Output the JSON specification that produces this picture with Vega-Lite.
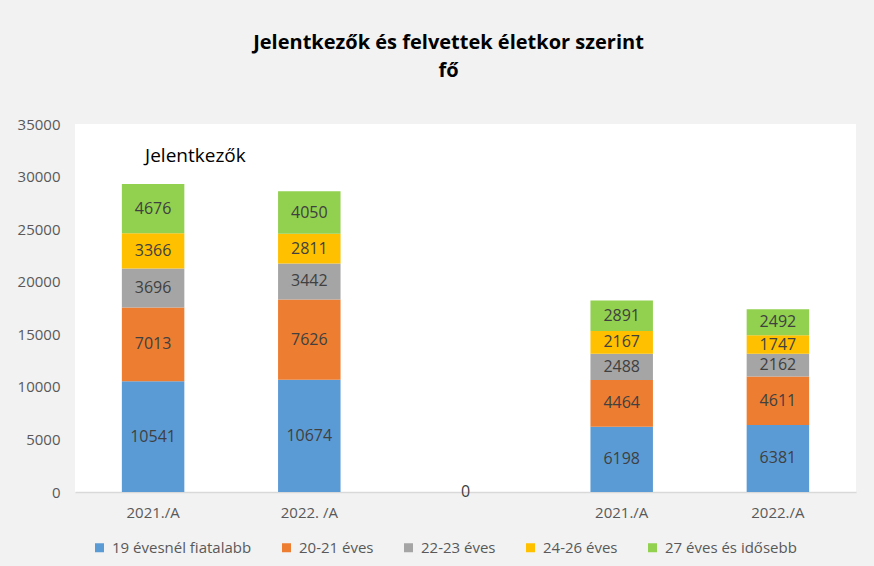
{
  "$schema": "https://vega.github.io/schema/vega-lite/v6.json",
  "width": 781,
  "height": 368,
  "autosize": {"type": "none"},
  "padding": {"left": 75, "top": 124, "right": 18, "bottom": 74},
  "background": "#f2f2f2",
  "view": {"fill": "white", "stroke": null},
  "config": {"font": "Open Sans"},
  "title": {
    "text": ["Jelentkezők és felvettek életkor szerint", "fő"],
    "fontSize": 20,
    "fontWeight": "bold",
    "color": "#000000",
    "lineHeight": 28,
    "anchor": "middle",
    "dx": -17,
    "offset": 36
  },
  "layer": [
    {
      "data": {
        "values": [
          {"kat": "J|2021./A", "csoport": "19 évesnél fiatalabb", "fo": 10541},
          {"kat": "J|2021./A", "csoport": "20-21 éves", "fo": 7013},
          {"kat": "J|2021./A", "csoport": "22-23 éves", "fo": 3696},
          {"kat": "J|2021./A", "csoport": "24-26 éves", "fo": 3366},
          {"kat": "J|2021./A", "csoport": "27 éves és idősebb", "fo": 4676},
          {"kat": "J|2022. /A", "csoport": "19 évesnél fiatalabb", "fo": 10674},
          {"kat": "J|2022. /A", "csoport": "20-21 éves", "fo": 7626},
          {"kat": "J|2022. /A", "csoport": "22-23 éves", "fo": 3442},
          {"kat": "J|2022. /A", "csoport": "24-26 éves", "fo": 2811},
          {"kat": "J|2022. /A", "csoport": "27 éves és idősebb", "fo": 4050},
          {"kat": "U| ", "csoport": "19 évesnél fiatalabb", "fo": 0},
          {"kat": "F|2021./A", "csoport": "19 évesnél fiatalabb", "fo": 6198},
          {"kat": "F|2021./A", "csoport": "20-21 éves", "fo": 4464},
          {"kat": "F|2021./A", "csoport": "22-23 éves", "fo": 2488},
          {"kat": "F|2021./A", "csoport": "24-26 éves", "fo": 2167},
          {"kat": "F|2021./A", "csoport": "27 éves és idősebb", "fo": 2891},
          {"kat": "F|2022./A", "csoport": "19 évesnél fiatalabb", "fo": 6381},
          {"kat": "F|2022./A", "csoport": "20-21 éves", "fo": 4611},
          {"kat": "F|2022./A", "csoport": "22-23 éves", "fo": 2162},
          {"kat": "F|2022./A", "csoport": "24-26 éves", "fo": 1747},
          {"kat": "F|2022./A", "csoport": "27 éves és idősebb", "fo": 2492}
        ]
      },
      "transform": [
        {"stack": "fo", "groupby": ["kat"], "sort": [{"field": "csoport", "order": "ascending"}], "as": ["y0", "y1"]},
        {"calculate": "(datum.y0 + datum.y1) / 2", "as": "ymid"}
      ],
      "layer": [
        {
          "mark": {"type": "bar", "strokeWidth": 0},
          "encoding": {
            "x": {
              "field": "kat",
              "type": "nominal",
              "scale": {"domain": ["J|2021./A", "J|2022. /A", "U| ", "F|2021./A", "F|2022./A"], "paddingInner": 0.6, "paddingOuter": 0.3},
              "axis": {
                "title": null,
                "labelExpr": "split(datum.value, '|')[1]",
                "labelAngle": 0,
                "ticks": false,
                "domainColor": "#d9d9d9",
                "domainWidth": 1.5,
                "labelColor": "#595959",
                "labelFontSize": 15,
                "labelPadding": 13
              }
            },
            "y": {
              "field": "y0",
              "type": "quantitative",
              "scale": {"domain": [0, 35000]},
              "axis": {
                "title": null,
                "values": [0, 5000, 10000, 15000, 20000, 25000, 30000, 35000],
                "format": "d",
                "grid": false,
                "domain": false,
                "ticks": false,
                "labelColor": "#595959",
                "labelFontSize": 15,
                "labelPadding": 15
              }
            },
            "y2": {"field": "y1"},
            "color": {
              "field": "csoport",
              "type": "nominal",
              "scale": {
                "domain": ["19 évesnél fiatalabb", "20-21 éves", "22-23 éves", "24-26 éves", "27 éves és idősebb"],
                "range": ["#5b9bd5", "#ed7d31", "#a5a5a5", "#ffc000", "#92d050"]
              },
              "legend": {
                "orient": "none",
                "direction": "horizontal",
                "legendX": 17,
                "legendY": 416,
                "title": null,
                "symbolType": "square",
                "symbolSize": 81,
                "symbolStrokeWidth": 0,
                "labelFontSize": 15,
                "labelColor": "#595959",
                "labelOffset": 5,
                "columnPadding": 27
              }
            }
          }
        },
        {
          "mark": {"type": "text", "fontSize": 16, "color": "#404040", "baseline": "middle", "align": "center"},
          "encoding": {
            "x": {"field": "kat", "type": "nominal"},
            "y": {"field": "ymid", "type": "quantitative"},
            "text": {"field": "fo", "type": "quantitative", "format": "d"}
          }
        }
      ]
    },
    {
      "data": {"values": [{"kat": "J|2021./A", "y": 32000, "felirat": "Jelentkezők"}]},
      "mark": {"type": "text", "fontSize": 19, "color": "#000000", "align": "left", "baseline": "middle", "dx": -8},
      "encoding": {
        "x": {"field": "kat", "type": "nominal"},
        "y": {"field": "y", "type": "quantitative"},
        "text": {"field": "felirat"}
      }
    }
  ]
}
